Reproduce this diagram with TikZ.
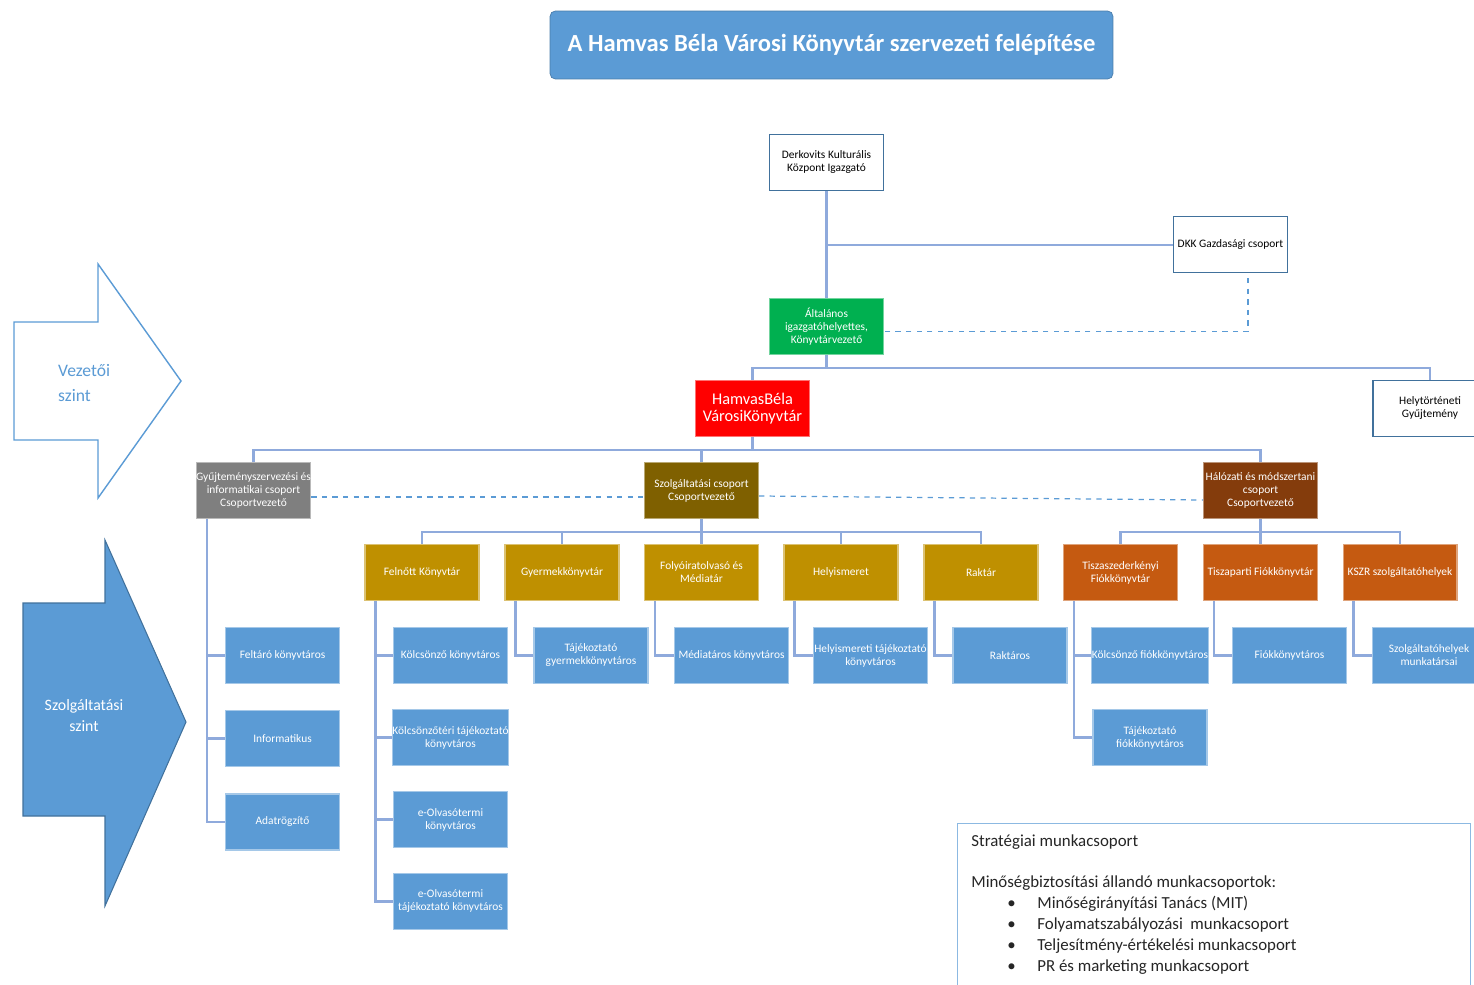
\documentclass[tikz,border=0pt]{standalone}
\usepackage{fontspec}
\setmainfont{Carlito}
\usetikzlibrary{calc}
\definecolor{kek}{HTML}{5B9BD5}
\definecolor{sotetkek}{HTML}{41719C}
\definecolor{vonal}{HTML}{8FAADC}
\definecolor{zold}{HTML}{00B050}
\definecolor{piros}{HTML}{FF0000}
\definecolor{szurke}{HTML}{7F7F7F}
\definecolor{barna}{HTML}{7F6000}
\definecolor{vorosbarna}{HTML}{843C0C}
\definecolor{arany}{HTML}{BF9000}
\definecolor{narancs}{HTML}{C55A11}
\definecolor{szoveg}{HTML}{262626}
\tikzset{
  doboz/.style={minimum width=2.28cm, minimum height=1.12cm, inner sep=0pt, align=center,
    font=\fontsize{6.5}{7.4}\selectfont},
  feher/.style={doboz, fill=white, draw=sotetkek, line width=0.8pt, text=black},
  szines/.style={doboz, fill=#1, draw=#1!55!white, line width=0.6pt, text=white},
  kapcs/.style={draw=vonal, line width=1.2pt},
  szagg/.style={draw=kek, line width=0.7pt, dashed}
}
\begin{document}
\begin{tikzpicture}[x=0.02cm, y=-0.02cm]
\useasboundingbox (0,0) rectangle (1474,984);

\node[fill=kek, draw=kek!80!black, rounded corners=3pt, minimum width=11.26cm, minimum height=1.36cm,
  text=white, font=\fontsize{14}{16}\selectfont\bfseries] (cim) at (831.5,45)
  {A Hamvas Béla Városi Könyvtár szervezeti felépítése};

\draw[kek, line width=0.8pt, fill=white] (14,322) -- (98,322) -- (98,264) -- (181,381) -- (98,498) -- (98,440) -- (14,440) -- cycle;
\draw[sotetkek, line width=0.6pt, fill=kek] (23,603) -- (105,603) -- (105,540) -- (186,722) -- (105,906) -- (105,816) -- (23,816) -- cycle;
\node[anchor=west, align=left, text=kek, font=\fontsize{10}{14}\selectfont] (vezszint) at (52,383) {Vezetői\\szint};
\node[align=center, text=white, font=\fontsize{9}{12}\selectfont] (szolszint) at (84,716) {Szolgáltatási\\szint};

\node[feher] (dkig) at (826.5,162.5) {Derkovits Kulturális\\Központ Igazgató};
\node[feher] (dkk) at (1230.5,244.5) {DKK Gazdasági csoport};
\node[szines=zold] (alt) at (826.5,326.5) {Általános\\igazgatóhelyettes,\\Könyvtárvezető};
\node[szines=piros, font=\fontsize{9.3}{10}\selectfont] (hamvas) at (752.5,408.5) {HamvasBéla\\VárosiKönyvtár};
\node[feher] (helyt) at (1430,408.5) {Helytörténeti\\Gyűjtemény};

\node[szines=szurke] (gyuj) at (253.5,490.5) {Gyűjteményszervezési és\\informatikai csoport\\Csoportvezető};
\node[szines=barna] (szolg) at (701.5,490.5) {Szolgáltatási csoport\\Csoportvezető};
\node[szines=vorosbarna] (halo) at (1260.5,490.5) {Hálózati és módszertani\\csoport\\Csoportvezető};

\node[szines=arany] (fel) at (422,572.5) {Felnőtt Könyvtár};
\node[szines=arany] (gyer) at (562,572.5) {Gyermekkönyvtár};
\node[szines=arany] (folyo) at (701.5,572.5) {Folyóiratolvasó és\\Médiatár};
\node[szines=arany] (helyism) at (841,572.5) {Helyismeret};
\node[szines=arany] (rak) at (981,572.5) {Raktár};
\node[szines=narancs] (tisz) at (1120.5,572.5) {Tiszaszederkényi\\Fiókkönyvtár};
\node[szines=narancs] (tpart) at (1260.5,572.5) {Tiszaparti Fiókkönyvtár};
\node[szines=narancs] (kszr) at (1400,572.5) {KSZR szolgáltatóhelyek};

\node[szines=kek] (feltaro) at (282.5,655.5) {Feltáró könyvtáros};
\node[szines=kek] (inform) at (282.5,738.5) {Informatikus};
\node[szines=kek] (adatr) at (282.5,822) {Adatrögzítő};
\node[szines=kek] (kolcs) at (450.5,655.5) {Kölcsönző könyvtáros};
\node[szines=kek] (kter) at (450.5,737.5) {Kölcsönzőtéri tájékoztató\\könyvtáros};
\node[szines=kek] (eolv) at (450.5,819.5) {e-Olvasótermi\\könyvtáros};
\node[szines=kek] (eotaj) at (450.5,901.5) {e-Olvasótermi\\tájékoztató könyvtáros};
\node[szines=kek] (tajgy) at (591,655.5) {Tájékoztató\\gyermekkönyvtáros};
\node[szines=kek] (medi) at (731.5,655.5) {Médiatáros könyvtáros};
\node[szines=kek] (hetaj) at (870.5,655.5) {Helyismereti tájékoztató\\könyvtáros};
\node[szines=kek] (raktaros) at (1010,655.5) {Raktáros};
\node[szines=kek] (kfiok) at (1150,655.5) {Kölcsönző fiókkönyvtáros};
\node[szines=kek] (tfiok) at (1150,737.5) {Tájékoztató\\fiókkönyvtáros};
\node[szines=kek] (fiok) at (1289.5,655.5) {Fiókkönyvtáros};
\node[szines=kek] (munkat) at (1429,655.5) {Szolgáltatóhelyek\\munkatársai};

\coordinate (j1) at (826.5,245);
\coordinate (j2) at (826.5,368);
\coordinate (j3) at (752.5,450);
\coordinate (j4) at (701.5,532);
\coordinate (j5) at (1260.5,532);

\draw[kapcs] (dkig) -- (alt);
\draw[kapcs] (j1) -- (j1 -| dkk.west);
\draw[kapcs] (alt.south) -- (j2);
\draw[kapcs] (hamvas.north) |- (j2) -| (helyt.north);
\draw[kapcs] (hamvas.south) -- (j3);
\draw[kapcs] (gyuj.north) |- (j3) -| (halo.north);
\draw[kapcs] (szolg.north) -- (szolg.north |- j3);
\draw[kapcs] (szolg.south) -- (j4);
\draw[kapcs] (fel.north) |- (j4) -| (rak.north);
\foreach \n in {gyer,folyo,helyism}
  \draw[kapcs] (\n.north) -- (\n.north |- j4);
\draw[kapcs] (halo.south) -- (j5);
\draw[kapcs] (tisz.north) |- (j5) -| (kszr.north);
\draw[kapcs] (tpart.north) -- (tpart.north |- j5);

\foreach \s/\c in {gyuj/feltaro, gyuj/inform, gyuj/adatr, fel/kolcs, fel/kter, fel/eolv, fel/eotaj,
  gyer/tajgy, folyo/medi, helyism/hetaj, rak/raktaros, tisz/kfiok, tisz/tfiok, tpart/fiok, kszr/munkat}
  \draw[kapcs] ([xshift=0.22cm]\s.south west) |- (\c.west);

\draw[szagg] ([shift={(0.35cm,-0.1cm)}]dkk.south) |- ([yshift=-0.1cm]alt.east);
\draw[szagg] ([yshift=-0.13cm]gyuj.east) -- ([yshift=-0.13cm]szolg.west);
\draw[szagg] ([yshift=-0.11cm]szolg.east) -- ([yshift=-0.19cm]halo.west);

\node[draw=kek!70!white, line width=0.8pt, fill=white, minimum width=10.26cm, minimum height=4cm, anchor=north west] (keret) at (957,823) {};
\node[anchor=north west, align=left, inner sep=0pt, text=szoveg, font=\fontsize{9.6}{11.9}\selectfont] (munka)
  at ([shift={(0.28cm,-0.22cm)}]keret.north west)
  {Stratégiai munkacsoport\\[11.9pt]
   Minőségbiztosítási állandó munkacsoportok:\\
   \hspace*{0.72cm}\makebox[0.6cm][l]{\textbullet}Minőségirányítási Tanács (MIT)\\
   \hspace*{0.72cm}\makebox[0.6cm][l]{\textbullet}Folyamatszabályozási\ \ munkacsoport\\
   \hspace*{0.72cm}\makebox[0.6cm][l]{\textbullet}Teljesítmény-értékelési munkacsoport\\
   \hspace*{0.72cm}\makebox[0.6cm][l]{\textbullet}PR és marketing munkacsoport};
\end{tikzpicture}
\end{document}
